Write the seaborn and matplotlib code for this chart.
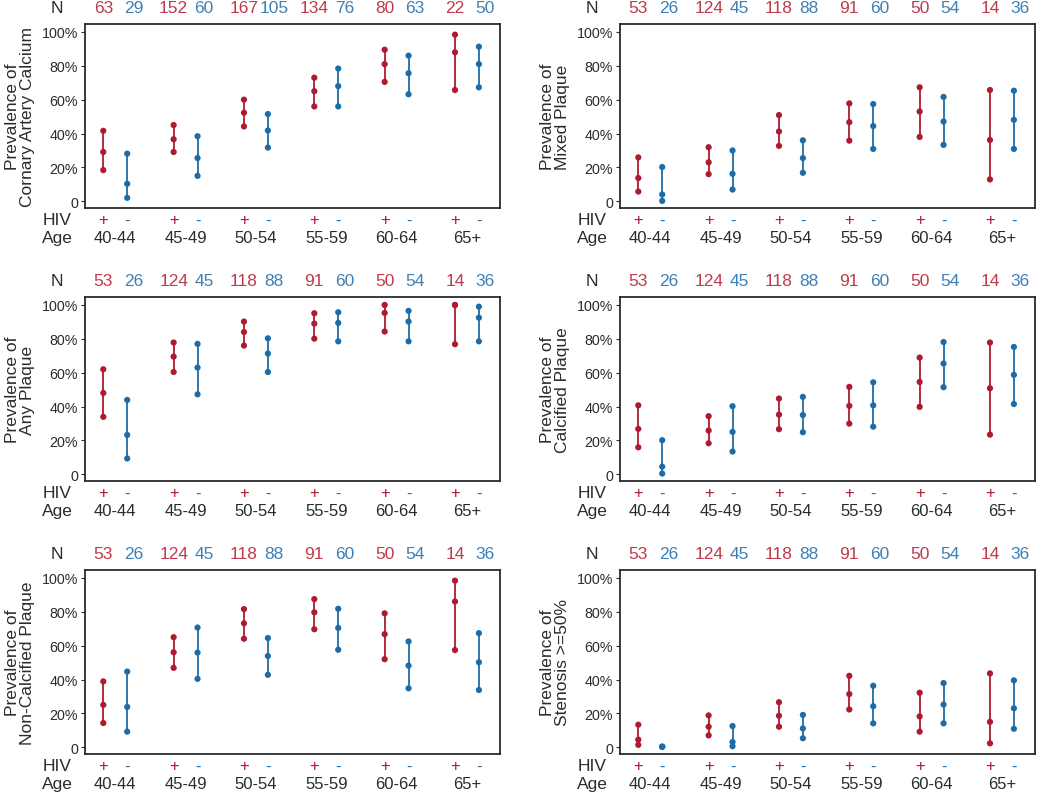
import numpy as np
import pandas as pd
import matplotlib
matplotlib.use('Agg')
import matplotlib.pyplot as plt
import matplotlib.transforms as mtransforms
import seaborn as sns

sns.set_theme(style='white')
plt.rcParams['font.family'] = ['Liberation Sans', 'DejaVu Sans']

ages = ['40-44', '45-49', '50-54', '55-59', '60-64', '65+']

# sample sizes
n_pos_cac = [63, 152, 167, 134, 80, 22]
n_neg_cac = [29, 60, 105, 76, 63, 50]
n_pos = [53, 124, 118, 91, 50, 14]
n_neg = [26, 45, 88, 60, 54, 36]

# prevalence (%) : lower CI, estimate, upper CI
cac_pos_lo = [18.4, 29.1, 44.2, 56.0, 70.5, 65.7]
cac_pos_mid = [29.1, 36.6, 52.3, 65.0, 81.0, 88.0]
cac_pos_hi = [41.6, 45.0, 60.0, 73.0, 89.5, 98.4]
cac_neg_lo = [2.0, 15.0, 31.7, 56.0, 63.2, 67.3]
cac_neg_mid = [10.3, 25.5, 41.8, 68.0, 75.6, 81.0]
cac_neg_hi = [28.1, 38.4, 51.5, 78.4, 86.0, 91.3]

mix_pos_lo = [5.7, 16.0, 32.7, 35.8, 38.0, 12.9]
mix_pos_mid = [13.7, 23.0, 41.2, 46.7, 53.0, 36.2]
mix_pos_hi = [25.9, 31.9, 50.9, 57.8, 67.3, 65.7]
mix_neg_lo = [0.2, 6.9, 16.8, 30.9, 33.3, 30.9]
mix_neg_mid = [4.0, 16.2, 25.5, 44.4, 47.1, 48.1]
mix_neg_hi = [20.2, 30.0, 36.0, 57.4, 61.6, 65.3]

any_pos_lo = [33.9, 60.4, 76.0, 80.1, 84.3, 76.8]
any_pos_mid = [48.0, 69.5, 84.0, 89.0, 95.3, 100.0]
any_pos_hi = [62.0, 77.8, 90.2, 95.1, 100.0, 100.0]
any_neg_lo = [9.3, 47.2, 60.4, 78.5, 78.5, 78.5]
any_neg_mid = [23.2, 63.0, 71.3, 89.4, 90.2, 92.5]
any_neg_hi = [43.9, 77.0, 80.3, 95.7, 96.5, 99.0]

calc_pos_lo = [15.9, 18.3, 26.6, 29.9, 39.8, 23.4]
calc_pos_mid = [26.8, 25.8, 35.2, 40.4, 54.5, 50.8]
calc_pos_hi = [40.7, 34.3, 44.7, 51.6, 68.9, 77.8]
calc_neg_lo = [0.4, 13.4, 24.8, 28.1, 51.4, 41.5]
calc_neg_mid = [4.5, 25.0, 35.0, 40.7, 65.4, 58.7]
calc_neg_hi = [20.1, 40.2, 45.7, 54.3, 78.1, 75.2]

ncp_pos_lo = [14.3, 46.9, 64.1, 69.7, 52.0, 57.4]
ncp_pos_mid = [25.0, 56.1, 73.2, 79.7, 66.8, 86.1]
ncp_pos_hi = [38.9, 65.0, 81.6, 87.5, 79.1, 98.4]
ncp_neg_lo = [9.2, 40.4, 42.8, 57.6, 34.8, 33.8]
ncp_neg_mid = [23.8, 55.9, 53.9, 70.5, 48.2, 50.2]
ncp_neg_hi = [44.7, 70.7, 64.5, 81.8, 62.5, 67.4]

sten_pos_lo = [1.4, 7.0, 12.1, 22.3, 9.2, 2.3]
sten_pos_mid = [4.5, 12.1, 18.6, 31.4, 18.2, 15.0]
sten_pos_hi = [13.3, 18.8, 26.6, 42.2, 32.2, 43.6]
sten_neg_lo = [0.3, 0.6, 5.3, 14.1, 14.1, 10.9]
sten_neg_mid = [0.3, 3.1, 11.1, 24.2, 25.2, 23.0]
sten_neg_hi = [0.3, 12.5, 19.1, 36.3, 37.9, 39.5]

panels = [
    ('Prevalence of\nCornary Artery Calcium', n_pos_cac, n_neg_cac,
     (cac_pos_lo, cac_pos_mid, cac_pos_hi), (cac_neg_lo, cac_neg_mid, cac_neg_hi)),
    ('Prevalence of\nMixed Plaque', n_pos, n_neg,
     (mix_pos_lo, mix_pos_mid, mix_pos_hi), (mix_neg_lo, mix_neg_mid, mix_neg_hi)),
    ('Prevalence of\nAny Plaque', n_pos, n_neg,
     (any_pos_lo, any_pos_mid, any_pos_hi), (any_neg_lo, any_neg_mid, any_neg_hi)),
    ('Prevalence of\nCalcified Plaque', n_pos, n_neg,
     (calc_pos_lo, calc_pos_mid, calc_pos_hi), (calc_neg_lo, calc_neg_mid, calc_neg_hi)),
    ('Prevalence of\nNon-Calcified Plaque', n_pos, n_neg,
     (ncp_pos_lo, ncp_pos_mid, ncp_pos_hi), (ncp_neg_lo, ncp_neg_mid, ncp_neg_hi)),
    ('Prevalence of\nStenosis >=50%', n_pos, n_neg,
     (sten_pos_lo, sten_pos_mid, sten_pos_hi), (sten_neg_lo, sten_neg_mid, sten_neg_hi)),
]

RED = '#AE1A2E'
BLUE = '#1D6CA8'
RED_TXT = '#BF3A4C'
BLUE_TXT = '#3E80B6'
DARK = '#2B2B2B'
palette = {'+': RED, '-': BLUE}
off = 0.17

W, H = 1050, 804
fig = plt.figure(figsize=(W / 100, H / 100), dpi=100)
lefts = [85, 620]
tops = [25, 298, 571]

for i, (ylab, npos, nneg, pos, neg) in enumerate(panels):
    col, row = i % 2, i // 2
    ax = fig.add_axes([lefts[col] / W, 1 - (tops[row] + 184) / H, 415 / W, 184 / H])

    rows = []
    for k, age in enumerate(ages):
        for hiv, vals, x in (('+', pos, k + 1 - off), ('-', neg, k + 1 + off)):
            rows.append({'x': x, 'hiv': hiv, 'lo': vals[0][k], 'mid': vals[1][k], 'hi': vals[2][k]})
    df = pd.DataFrame(rows)
    long = df.melt(id_vars=['x', 'hiv'], value_vars=['lo', 'mid', 'hi'], value_name='value')

    for hiv, g in df.groupby('hiv'):
        ax.vlines(g['x'], g['lo'], g['hi'], color=palette[hiv], lw=1.3, zorder=2)
    sns.scatterplot(data=long, x='x', y='value', hue='hiv', palette=palette, s=20,
                    linewidth=0, legend=False, ax=ax, zorder=3)

    ax.set_xlim(0.57, 6.47)
    ax.set_ylim(-4, 104.7)
    ax.set_yticks([0, 20, 40, 60, 80, 100])
    ax.set_yticklabels(['0', '20%', '40%', '60%', '80%', '100%'], fontsize=10.3, color=DARK)
    ax.set_xticks([])
    ax.set_xlabel('')
    ax.set_ylabel(ylab, fontsize=12.5, color=DARK, linespacing=0.95, labelpad=5)
    ax.tick_params(axis='y', left=True, length=3, width=0.8, color=DARK, pad=2)
    for sp in ax.spines.values():
        sp.set_color(DARK)
        sp.set_linewidth(1.3)

    tr = mtransforms.blended_transform_factory(ax.transData, ax.transAxes)
    lx = -0.067
    ax.text(lx, 1.092, 'N', transform=ax.transAxes, ha='center', va='center', fontsize=12.5, color=DARK)
    ax.text(lx, -0.065, 'HIV', transform=ax.transAxes, ha='center', va='center', fontsize=12.5, color=DARK)
    ax.text(lx, -0.16, 'Age', transform=ax.transAxes, ha='center', va='center', fontsize=12.5, color=DARK)
    for k, age in enumerate(ages):
        ax.text(k + 1 - off, 1.092, str(npos[k]), transform=tr, ha='center', va='center', fontsize=12.5, color=RED_TXT)
        ax.text(k + 1 + off + 0.09, 1.092, str(nneg[k]), transform=tr, ha='center', va='center', fontsize=12.5, color=BLUE_TXT)
        ax.text(k + 1 - off, -0.065, '+', transform=tr, ha='center', va='center', fontsize=12, color=RED)
        ax.text(k + 1 + off, -0.065, '-', transform=tr, ha='center', va='center', fontsize=12, color=BLUE)
        ax.text(k + 1, -0.16, age, transform=tr, ha='center', va='center', fontsize=12, color=DARK)

fig.savefig('out.png', dpi=100)
